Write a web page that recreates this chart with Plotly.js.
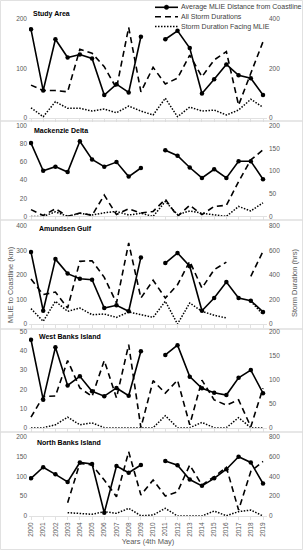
<!DOCTYPE html>
<html>
<head>
<meta charset="utf-8">
<script src="https://cdn.plot.ly/plotly-3.0.1.min.js"></script>
<style>html,body{margin:0;padding:0;background:#fff;}#chart{width:303px;height:550px;}</style>
</head>
<body>
<div id="chart"></div>
<script>
// ---- data ----
var years = [2000,2001,2002,2003,2004,2005,2006,2007,2008,2009,2010,2011,2012,2013,2014,2015,2016,2017,2018,2019];
var yearLabels = ["2000","2001","2002","2003","2004","2005","2006","2007","2008","2009","2010","2011","2012","2013","2014","2015","2016","2017","2018","2019"];

var panelNames = ["Study Area","Mackenzie Delta","Amundsen Gulf","West Banks Island","North Banks Island"];

var studyMlie   = [179,55,159,122,128,120,46,68,51,164,null,159,176,141,49,78,108,86,80,46];
var studyStorm  = [132,110,110,105,277,261,207,119,366,105,204,137,160,254,166,234,268,51,180,308];
var studyFacing = [40,4,65,38,38,27,35,20,47,27,11,79,4,43,27,31,11,31,75,42];

var mackMlie   = [81,50.5,55,49,83,63,55,60,44,53.5,null,73,67,54,42.5,52,42.5,61,61,41];
var mackStorm  = [15,2,17,0,7.5,2.4,47,4,17,7.5,11,38,0,24.5,4,22,24.5,77,125,147];
var mackFacing = [0,0,10,0,7,3,8,11,3,7,0,33,4,12,7,4,0,22,12,30];

var amunMlie   = [293,54,264,205,184,180,65,76,52,271,null,248,289,235,54,106,171,106,95,49];
var amunStorm  = [366,239,260,130,510,515,380,171,659,211,356,211,320,510,293,442,504,null,388,591];
var amunFacing = [125,22,185,103,130,76,81,54,98,76,54,185,0,171,103,71,49,null,185,76];

var westMlie   = [45.8,14.6,41.9,22,26.8,19,16.4,20.7,16.7,39.8,null,37.9,43,26.6,20.5,18.2,17,26,30,18];
var westStorm  = [22,65,66,140,83,65,140,62,173,0,98,72,99,6,99,58,47,58,2,82];
var westFacing = [0,0,6,22,6,10,0,0,0,0,0,25,0,0,11,0,0,21,0,0];

var northMlie   = [95,123,105,86,135,131,8,126,109,128.5,null,139,128,92,76,95,118,149.5,135,82];
var northStorm  = [null,null,null,134,531,515,363,195,648,212,363,202,245,514,312,396,491,60,450,550];
var northFacing = [null,null,null,34,27,17,44,27,77,3,10,77,0,0,0,50,3,44,60,0];

var leftMax  = [200,100,400,50,200];
var leftStep = [100,20,100,10,50];
var rightMax = [400,200,800,200,800];
var rightStep= [200,50,200,50,200];

var legendNames = ["Average MLIE Distance from Coastline","All Storm Durations","Storm Duration Facing MLIE"];
var leftTitle = "MLIE to Coastline (km)";
var rightTitle = "Storm Duration (hrs)";
var xTitle = "Years (4th May)";

// ---- layout helpers (pixel geometry) ----
var W = 303, H = 550;
function py(p){ return 1 - p/H; }
function px(p){ return p/W; }
var plotTop = [19, 125.9, 225.7, 331.7, 436.7];
var plotBot = [117.7, 216.4, 324, 427.7, 516];
var boxTop = [0.5, 121, 220, 329, 432];
var boxBot = [121, 220, 329, 432, 549.5];
var titleY = [14, 130.5, 228.5, 336, 442];
var titleX = [31, 32, 37, 37, 35];

var mlieSets = [studyMlie, mackMlie, amunMlie, westMlie, northMlie];
var stormSets = [studyStorm, mackStorm, amunStorm, westStorm, northStorm];
var facingSets = [studyFacing, mackFacing, amunFacing, westFacing, northFacing];

var FONT = "Liberation Sans, Arial, sans-serif";
var traces = [];
var layout = {
  width: W, height: H,
  margin: {l:0, r:0, t:0, b:0},
  paper_bgcolor: "#ffffff", plot_bgcolor: "rgba(0,0,0,0)",
  showlegend: false,
  font: {family: FONT, size: 6.5, color: "#595959"},
  shapes: [], annotations: []
};

for (var i = 0; i < 5; i++) {
  var xa = "x" + (i+1);
  var yl = "y" + (2*i+1);
  var yr = "y" + (2*i+2);
  var dom = [py(plotBot[i]), py(plotTop[i])];
  layout["xaxis" + (i+1)] = {
    domain: [px(29), px(267)],
    range: [1999.836, 2019.327],
    anchor: yl,
    showgrid: false, zeroline: false,
    showline: true, linecolor: "#d9d9d9", linewidth: 0.8,
    ticks: "outside", ticklen: 3, tickcolor: "#d9d9d9", tickwidth: 0.8,
    tickmode: "array", tickvals: years, ticktext: yearLabels,
    showticklabels: i === 4,
    tickangle: -90,
    tickfont: {family: FONT, size: 6.5, color: "#595959"},
    fixedrange: true
  };
  if (i === 4) {
    layout["xaxis5"].title = {text: xTitle, font: {family: FONT, size: 7.5, color: "#595959"}, standoff: 2};
  }
  layout["yaxis" + (2*i+1)] = {
    domain: dom, anchor: xa,
    range: [0, leftMax[i]], dtick: leftStep[i], tick0: 0,
    showgrid: false, zeroline: false, showline: false, ticks: "",
    ticklabelstandoff: 1,
    tickfont: {family: FONT, size: 6.5, color: "#595959"},
    fixedrange: true
  };
  layout["yaxis" + (2*i+2)] = {
    domain: dom, anchor: xa, overlaying: yl, side: "right",
    range: [0, rightMax[i]], dtick: rightStep[i], tick0: 0,
    showgrid: false, zeroline: false, showline: false, ticks: "",
    ticklabelstandoff: 1,
    tickfont: {family: FONT, size: 6.5, color: "#595959"},
    fixedrange: true
  };
  traces.push({
    x: years, y: stormSets[i], xaxis: xa, yaxis: yr, type: "scatter", mode: "lines",
    name: legendNames[1], connectgaps: false,
    line: {color: "#000000", width: 1.6, dash: "6px,4px"}, hoverinfo: "skip"
  });
  traces.push({
    x: years, y: facingSets[i], xaxis: xa, yaxis: yr, type: "scatter", mode: "lines",
    name: legendNames[2], connectgaps: false,
    line: {color: "#000000", width: 1.5, dash: "1.5px,1.5px"}, hoverinfo: "skip"
  });
  traces.push({
    x: years, y: mlieSets[i], xaxis: xa, yaxis: yl, type: "scatter", mode: "lines+markers",
    name: legendNames[0], connectgaps: false,
    line: {color: "#000000", width: 1.6},
    marker: {color: "#000000", size: 4.5, symbol: "circle"}, hoverinfo: "skip"
  });
  layout.shapes.push({
    type: "rect", xref: "paper", yref: "paper",
    x0: px(0.5), x1: px(302.5), y0: py(boxBot[i]), y1: py(boxTop[i]),
    line: {color: "#d9d9d9", width: 0.8}, fillcolor: "rgba(0,0,0,0)", layer: "below"
  });
  layout.annotations.push({
    text: "<b>" + panelNames[i] + "</b>", xref: "paper", yref: "paper",
    x: px(titleX[i]), y: py(titleY[i]), xanchor: "left", yanchor: "middle",
    showarrow: false, font: {family: FONT, size: 7, color: "#000000"}
  });
}

// axis titles (panel 3)
layout.annotations.push({
  text: leftTitle, xref: "paper", yref: "paper", x: px(10), y: py(285),
  xanchor: "center", yanchor: "middle", textangle: -90, showarrow: false,
  font: {family: FONT, size: 7.5, color: "#595959"}
});
layout.annotations.push({
  text: rightTitle, xref: "paper", yref: "paper", x: px(294), y: py(283),
  xanchor: "center", yanchor: "middle", textangle: -90, showarrow: false,
  font: {family: FONT, size: 7.5, color: "#595959"}
});

// legend (panel 1, top right)
var legRows = [7.3, 16.8, 26.5];
var legDash = ["solid", "6px,4px", "1.5px,1.5px"];
for (var k = 0; k < 3; k++) {
  layout.shapes.push({
    type: "line", xref: "paper", yref: "paper",
    x0: px(155), x1: px(178), y0: py(legRows[k]), y1: py(legRows[k]),
    line: {color: "#000000", width: 1.6, dash: legDash[k]}
  });
  layout.annotations.push({
    text: legendNames[k], xref: "paper", yref: "paper",
    x: px(178.5), y: py(legRows[k]), xanchor: "left", yanchor: "middle",
    showarrow: false, font: {family: FONT, size: 7, color: "#404040"}
  });
}
layout.shapes.push({
  type: "circle", xref: "paper", yref: "paper",
  x0: px(164.3), x1: px(168.7), y0: py(legRows[0]+2.2), y1: py(legRows[0]-2.2),
  fillcolor: "#000000", line: {color: "#000000", width: 0.5}
});

Plotly.newPlot("chart", traces, layout, {staticPlot: true, displayModeBar: false});
</script>
</body>
</html>
